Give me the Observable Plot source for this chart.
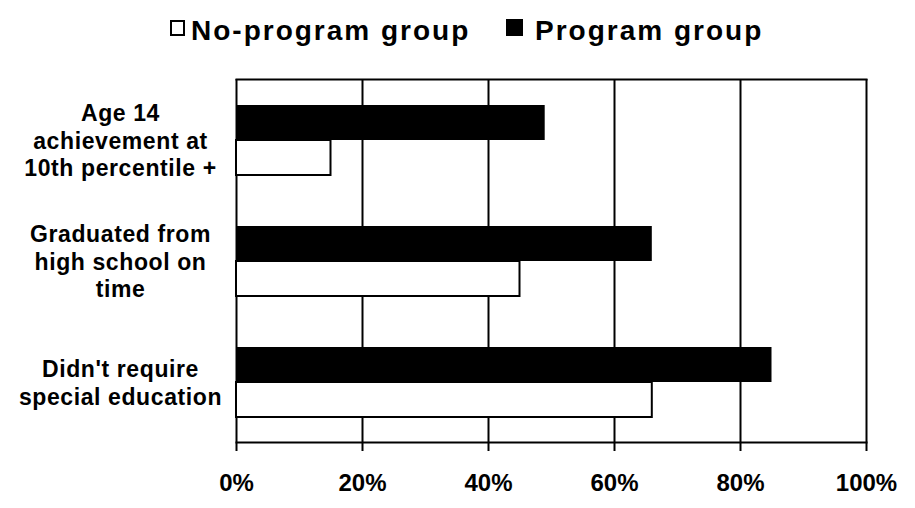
<!DOCTYPE html>
<html>
<head>
<meta charset="utf-8">
<script src="https://cdn.jsdelivr.net/npm/d3@7"></script>
<script src="https://cdn.jsdelivr.net/npm/@observablehq/plot@0.6"></script>
<style>
  html, body { margin: 0; padding: 0; background: #fff; }
  body { width: 915px; height: 508px; overflow: hidden; font-family: "Liberation Sans", Arial, sans-serif; }
  #legend { height: 60px; position: relative; font-weight: bold; font-size: 28px; line-height: 32px; color: #000; letter-spacing: 2px; }
  .lbl { position: absolute; top: 15px; white-space: nowrap; }
  .sw { position: absolute; box-sizing: border-box; border: 2px solid #000; }
  g[aria-label="fy-axis tick label"] text { letter-spacing: 0.6px; }
</style>
</head>
<body>
<div id="legend"></div>
<div id="chart"></div>
<script>
const categories = [
  "Age 14\nachievement at\n10th percentile +",
  "Graduated from\nhigh school on\ntime",
  "Didn't require\nspecial education"
];
const groups = ["Program group", "No-program group"];
const programValues = [49, 66, 85];
const noProgramValues = [15, 45, 66];
const xTicks = [0, 20, 40, 60, 80, 100];
const legendItems = ["No-program group", "Program group"];
const legendColors = ["#fff", "#000"];

const rows = [];
categories.forEach((c, i) => {
  rows.push({category: c, group: groups[0], value: programValues[i]});
  rows.push({category: c, group: groups[1], value: noProgramValues[i]});
});

// legend (HTML, above the SVG)
const legend = document.getElementById("legend");
const swatchLayout = [{left: 170, top: 20, w: 15, h: 16}, {left: 506, top: 19, w: 17, h: 17}];
const textLeft = [191, 535];
legendItems.forEach((name, i) => {
  const sw = document.createElement("div");
  sw.className = "sw";
  Object.assign(sw.style, {
    left: swatchLayout[i].left + "px", top: swatchLayout[i].top + "px",
    width: swatchLayout[i].w + "px", height: swatchLayout[i].h + "px",
    background: legendColors[i]
  });
  const t = document.createElement("div");
  t.className = "lbl";
  t.style.left = textLeft[i] + "px";
  t.textContent = name;
  legend.appendChild(sw);
  legend.appendChild(t);
});

const chart = Plot.plot({
  width: 915,
  height: 448,
  marginTop: 18,
  marginBottom: 65,
  marginLeft: 236,
  marginRight: 49,
  style: {fontFamily: "'Liberation Sans', Arial, sans-serif", fontWeight: "bold", color: "#000", background: "#fff", overflow: "visible"},
  x: {domain: [0, 100], label: null},
  y: {domain: groups, paddingInner: 0, paddingOuter: 0.69, axis: null},
  fy: {domain: categories, padding: 0, label: null},
  marks: [
    Plot.ruleX(xTicks, {x: d => d, stroke: "#000", strokeWidth: 2}),
    Plot.barX(rows.filter(d => d.group === groups[0]), {fy: "category", y: "group", x: "value", fill: "#000"}),
    Plot.barX(rows.filter(d => d.group === groups[1]), {fy: "category", y: "group", x: "value", fill: "#fff", stroke: "#000", strokeWidth: 2}),
    Plot.frame({anchor: "top", facetAnchor: "top", stroke: "#000", strokeWidth: 2}),
    Plot.frame({anchor: "bottom", facetAnchor: "bottom", stroke: "#000", strokeWidth: 2}),
    Plot.axisX({anchor: "bottom", facetAnchor: "bottom", ticks: xTicks, tickFormat: d => d + "%", tickSize: 9, tickPadding: 22, fontSize: 24, strokeWidth: 2, label: null}),
    Plot.axisFy({anchor: "left", tickSize: 0, textAnchor: "middle", dx: -107, fontSize: 23, lineHeight: 1.2, label: null})
  ]
});
document.getElementById("chart").appendChild(chart);
</script>
</body>
</html>
